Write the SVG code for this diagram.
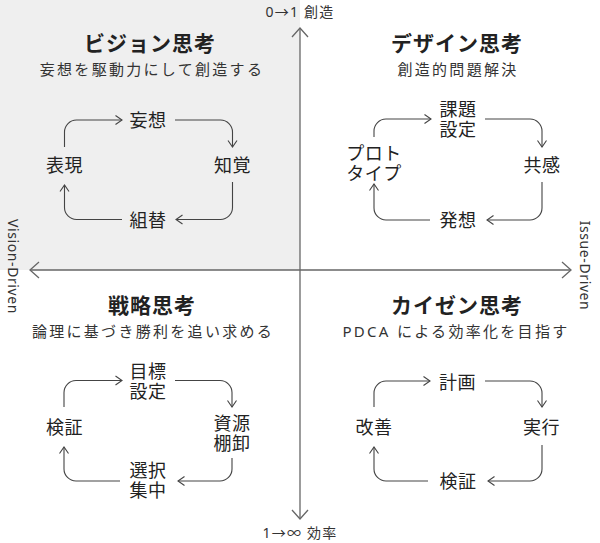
<svg xmlns="http://www.w3.org/2000/svg" width="600" height="543" viewBox="0 0 600 543">
<style>
text{font-family:"Noto Sans","Noto Sans CJK JP",sans-serif;fill:#222;text-anchor:middle}
.title{font-size:21px;font-weight:700;letter-spacing:1px}
.sub{font-size:15px;letter-spacing:2.3px;fill:#333}
.node{font-size:18px;letter-spacing:0.5px}
.axl{font-size:14px;letter-spacing:1.2px;fill:#333}
.side{font-size:14px;letter-spacing:0.6px;fill:#333}
.cyc{fill:none;stroke:#444;stroke-width:1.1;marker-end:url(#ah)}
.ax{fill:none;stroke:#666;stroke-width:1.3;marker-end:url(#axh)}
</style>
<defs>
<marker id="ah" viewBox="-10 -10 20 20" markerWidth="20" markerHeight="20" markerUnits="userSpaceOnUse" refX="0" refY="0" orient="auto" overflow="visible">
<path d="M-6.5,-4.5 L0,0 L-6.5,4.5" fill="none" stroke="#444" stroke-width="1.1"/>
</marker>
<marker id="axh" viewBox="-12 -12 24 24" markerWidth="24" markerHeight="24" markerUnits="userSpaceOnUse" refX="0" refY="0" orient="auto" overflow="visible">
<path d="M-9,-8 L0,0 L-9,8" fill="none" stroke="#666" stroke-width="1.3"/>
</marker>
</defs>
<rect id="vision-bg" x="0" y="0" width="300" height="270" fill="#efefef"/>
<g id="axes">
<path class="ax" d="M300 270 V28"/>
<path class="ax" d="M300 270 V519"/>
<path class="ax" d="M300 270 H30"/>
<path class="ax" d="M300 270 H571"/>
<text class="axl" x="300" y="17">0→1 創造</text>
<text class="axl" x="300" y="538">1→∞ 効率</text>
<text class="side" transform="translate(12.5,266.5) rotate(90)" y="5">Vision-Driven</text>
<text class="side" transform="translate(585,265.5) rotate(90)" y="5">Issue-Driven</text>
</g>
<g id="connectors">
<path class="cyc" d="M64.5 147 V132 A12 12 0 0 1 76.5 120 H122"/>
<path class="cyc" d="M175 120 H220.5 A12 12 0 0 1 232.5 132 V147"/>
<path class="cyc" d="M232.5 182 V207.5 A12 12 0 0 1 220.5 219.5 H176"/>
<path class="cyc" d="M122 219.5 H76.5 A12 12 0 0 1 64.5 207.5 V185"/>
<path class="cyc" d="M374 137 V131 A12 12 0 0 1 386 119 H431"/>
<path class="cyc" d="M485 119 H530 A12 12 0 0 1 542 131 V147"/>
<path class="cyc" d="M542 182 V208 A12 12 0 0 1 530 220 H487"/>
<path class="cyc" d="M430 220 H386 A12 12 0 0 1 374 208 V184"/>
<path class="cyc" d="M64 407 V392.5 A12 12 0 0 1 76 380.5 H122"/>
<path class="cyc" d="M175 380.5 H220 A12 12 0 0 1 232 392.5 V407"/>
<path class="cyc" d="M232 458 V469 A12 12 0 0 1 220 481 H178"/>
<path class="cyc" d="M120 481 H76 A12 12 0 0 1 64 469 V447"/>
<path class="cyc" d="M374 407 V393 A12 12 0 0 1 386 381 H430"/>
<path class="cyc" d="M485 381 H530 A12 12 0 0 1 542 393 V407"/>
<path class="cyc" d="M542 445 V469 A12 12 0 0 1 530 481 H488"/>
<path class="cyc" d="M428 481 H386 A12 12 0 0 1 374 469 V447"/>
</g>
<g id="vision">
<text class="title" x="150" y="50.5">ビジョン思考</text>
<text class="sub" x="152" y="74.5">妄想を駆動力にして創造する</text>
<g id="v-mousou"><text class="node" x="148" y="126.5">妄想</text></g>
<g id="v-chikaku"><text class="node" x="232.5" y="171.5">知覚</text></g>
<g id="v-kumikae"><text class="node" x="148" y="226.5">組替</text></g>
<g id="v-hyougen"><text class="node" x="64.5" y="171.5">表現</text></g>
</g>
<g id="design">
<text class="title" x="457" y="50.5">デザイン思考</text>
<text class="sub" x="458" y="74.5">創造的問題解決</text>
<g id="d-kadai"><text class="node" x="458" y="116">課題</text><text class="node" x="458" y="136">設定</text></g>
<g id="d-kyoukan"><text class="node" x="542" y="171.5">共感</text></g>
<g id="d-hassou"><text class="node" x="458" y="226.5">発想</text></g>
<g id="d-proto"><text class="node" x="374" y="159.5">プロト</text><text class="node" x="374" y="179.5">タイプ</text></g>
</g>
<g id="strategy">
<text class="title" x="152" y="313">戦略思考</text>
<text class="sub" x="153" y="337">論理に基づき勝利を追い求める</text>
<g id="s-goal"><text class="node" x="148" y="378">目標</text><text class="node" x="148" y="398">設定</text></g>
<g id="s-resource"><text class="node" x="232" y="429.5">資源</text><text class="node" x="232" y="449.5">棚卸</text></g>
<g id="s-select"><text class="node" x="148" y="477">選択</text><text class="node" x="148" y="497">集中</text></g>
<g id="s-verify"><text class="node" x="64.5" y="434">検証</text></g>
</g>
<g id="kaizen">
<text class="title" x="457" y="313">カイゼン思考</text>
<text class="sub" x="456" y="337">PDCA による効率化を目指す</text>
<g id="k-plan"><text class="node" x="457.5" y="389">計画</text></g>
<g id="k-do"><text class="node" x="541.5" y="434">実行</text></g>
<g id="k-check"><text class="node" x="458" y="488">検証</text></g>
<g id="k-act"><text class="node" x="374" y="434">改善</text></g>
</g>
</svg>
